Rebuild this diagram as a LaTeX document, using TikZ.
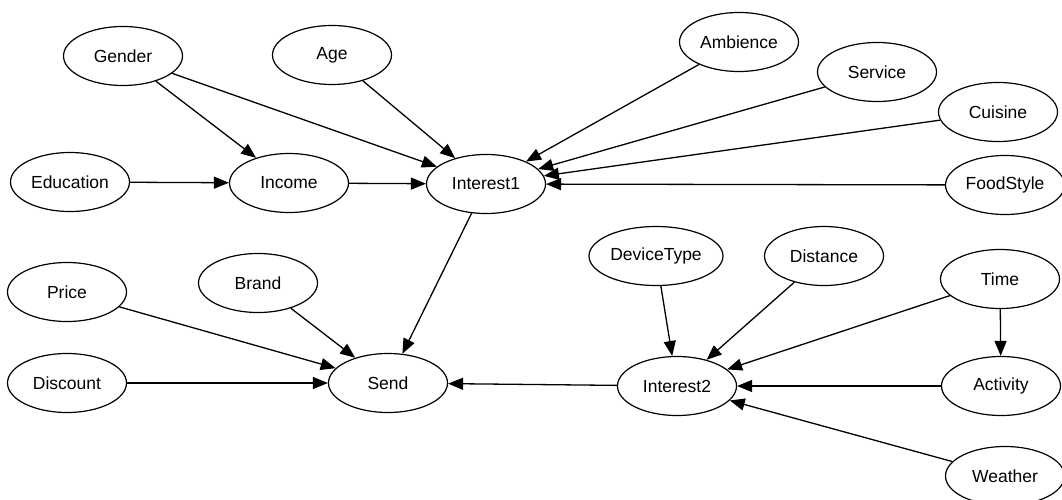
\documentclass[tikz,border=0pt]{standalone}
\usepackage{fontspec}
\setmainfont{Liberation Sans}
\usetikzlibrary{shapes.geometric,arrows.meta}
\begin{document}
\begin{tikzpicture}[x=1pt,y=-1pt,
  var/.style={ellipse,draw,line width=1.2pt,inner sep=0pt,
    minimum width=119pt,minimum height=59pt,font=\fontsize{17.5}{20}\selectfont},
  link/.style={line width=1.3pt,-{Triangle[length=15pt,width=12pt]}}]
\useasboundingbox (0,0) rectangle (1062,500);
\fill[white] (0,0) rectangle (1062,500);
\begin{scope}
\clip (0,0) rectangle (1062,500);
% upper network
\node[var] (gender)    at (123,56)  {Gender};
\node[var] (age)       at (332,55)  {Age};
\node[var] (education) at (70,182)  {Education};
\node[var] (income)    at (289,183) {Income};
\node[var] (interest1) at (486,184) {Interest1};
\node[var] (ambience)  at (739,42)  {Ambience};
\node[var] (service)   at (877,72)  {Service};
\node[var] (cuisine)   at (998,112) {Cuisine};
\node[var] (foodstyle) at (1005,185){FoodStyle};
% lower network
\node[var] (price)     at (67,292)  {Price};
\node[var] (brand)     at (258,283) {Brand};
\node[var] (discount)  at (67,383)  {Discount};
\node[var] (send)      at (388,383) {Send};
\node[var,minimum width=134pt] (device) at (656,256) {DeviceType};
\node[var] (distance)  at (824,256) {Distance};
\node[var] (time)      at (1000,279){Time};
\node[var] (interest2) at (677,386) {Interest2};
\node[var] (activity)  at (1001,386){Activity};
\node[var] (weather)   at (1005,476){Weather};
% dependencies
\draw[link] (gender) -- (income);
\draw[link] (gender) -- (interest1);
\draw[link] (age) -- (interest1);
\draw[link] (education) -- (income);
\draw[link] (income) -- (interest1);
\draw[link] (ambience) -- (interest1);
\draw[link] (service) -- (interest1);
\draw[link] (cuisine) -- (interest1);
\draw[link] (foodstyle) -- (interest1);
\draw[link] (interest1) -- (send);
\draw[link] (price) -- (send);
\draw[link] (brand) -- (send);
\draw[link] (discount) -- (send);
\draw[link] (interest2) -- (send);
\draw[link] (device) -- (interest2);
\draw[link] (distance) -- (interest2);
\draw[link] (time) -- (interest2);
\draw[link] (time) -- (activity);
\draw[link] (activity) -- (interest2);
\draw[link] (weather) -- (interest2);
\end{scope}
\end{tikzpicture}
\end{document}
